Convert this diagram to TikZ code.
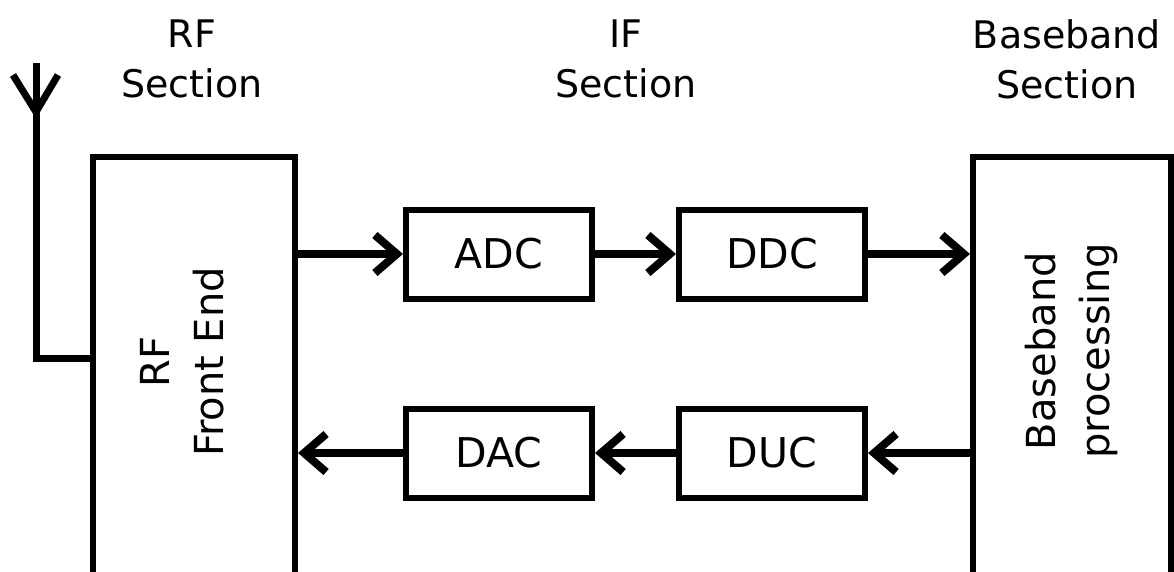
\documentclass[tikz,border=0pt]{standalone}
\usepackage{fontspec}
\setmainfont{DejaVu Sans}
\usetikzlibrary{arrows.meta}
\tikzset{
	block/.style = {draw, line width=6pt, minimum width=186pt, minimum height=89pt, inner sep=0pt, font=\fontsize{41}{48}\selectfont},
	bigbox/.style = {draw, line width=6pt, minimum height=470pt, inner sep=0pt},
	boxtext/.style = {rotate=90, align=center, inner sep=0pt, font=\fontsize{40}{54}\selectfont},
	head/.style = {align=center, inner sep=0pt, font=\fontsize{38}{50}\selectfont},
	link/.style = {line width=8pt, -{Straight Barb[length=22pt, width=38pt]}}
}

\begin{document}
\begin{tikzpicture}[x=1pt, y=-1pt]
		\useasboundingbox (0,0) rectangle (1174,572);
		\clip (0,0) rectangle (1174,572);
		% sections
		\node[head] (rfhead) at (192,59) {RF\\Section};
		\node[head] (ifhead) at (626,59) {IF\\Section};
		\node[head] (bbhead) at (1067,59) {Baseband\\Section};
		% big boxes
		\node[bigbox, minimum width=202pt] (rf) at (194,392) {};
		\node[bigbox, minimum width=198pt] (bb) at (1072,392) {};
		\node[boxtext] (rftext) at (182,362) {RF\\Front End};
		\node[boxtext] (bbtext) at (1071,351) {Baseband\\processing};
		% IF blocks
		\node[block] (adc) at (499,254) {ADC};
		\node[block] (ddc) at (772,254) {DDC};
		\node[block] (dac) at (499,453) {DAC};
		\node[block] (duc) at (772,453) {DUC};
		% receive path
		\draw[link] (rf.east |- adc.west) -- (adc.west);
		\draw[link] (adc) -- (ddc);
		\draw[link] (ddc.east) -- (bb.west |- ddc.east);
		% transmit path
		\draw[link] (bb.west |- duc.east) -- (duc.east);
		\draw[link] (duc) -- (dac);
		\draw[link] (dac.west) -- (rf.east |- dac.west);
		% antenna
		\coordinate (anttop) at (36,63);
		\coordinate (antfoot) at (36,358);
		\coordinate (antjoin) at (36,112);
		\coordinate (antleft) at (13,75);
		\coordinate (antright) at (58,75);
		\draw[line width=7pt] (anttop) -- (antfoot) -- (rf.west |- antfoot);
		\draw[line width=7pt] (antleft) -- (antjoin) -- (antright);
	\end{tikzpicture}
\end{document}
